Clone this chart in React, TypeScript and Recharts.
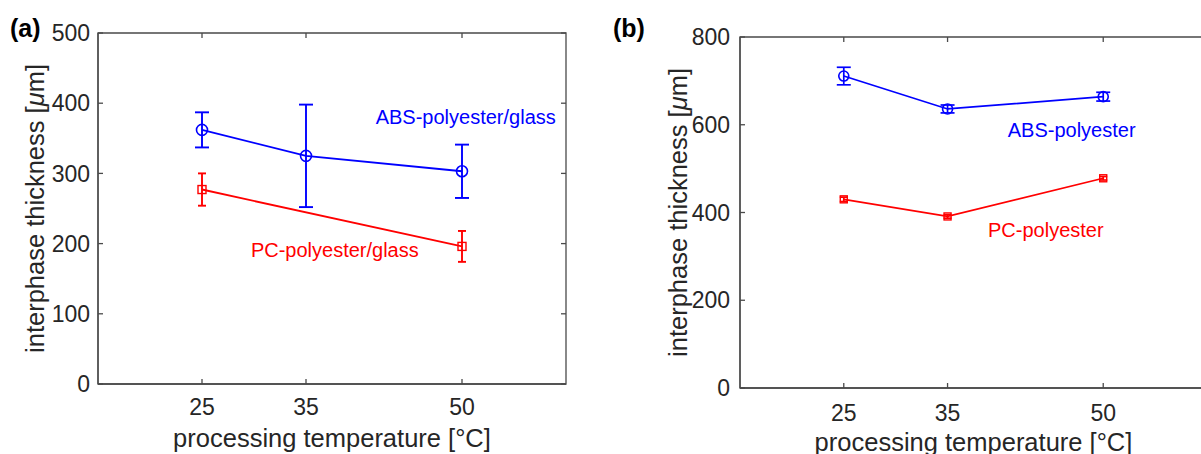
import React from "react"
import { LineChart, Line, XAxis, YAxis, ErrorBar, ReferenceDot, ReferenceArea, Label } from "recharts"

// processing temperatures (°C)
const temps = [25, 35, 50]
const tempTicks = [25, 35, 50]
const tempDomain: [number, number] = [15, 60]

// (a) polyester/glass
const absGlass = [362, 325, 303]
const absGlassErr = [25, 73, 38]
const pcGlassTemps = [25, 50]
const pcGlass = [277, 196]
const pcGlassErr = [23, 22]
const yTicksA = [0, 100, 200, 300, 400, 500]

// (b) polyester
const absPoly = [711, 636, 664]
const absPolyErr = [20, 9, 10]
const pcPoly = [430, 391, 478]
const pcPolyErr = [5, 4, 4]
const yTicksB = [0, 200, 400, 600, 800]

const BLUE = "#0000ff"
const RED = "#ff0000"
const TEXT = "#262626"
const AXIS = "#4a4a4a"
const FONT = "'Liberation Sans', Arial, Helvetica, sans-serif"
const TICK = 5

const rows = (xs: number[], ys: number[], es: number[]) =>
  xs.map((t, i) => ({ t, v: ys[i], e: es[i] }))

const squareDot = (size: number) => (p: any) => (
  <rect
    key={`sq-${p.index}`}
    x={p.cx - size / 2}
    y={p.cy - size / 2}
    width={size}
    height={size}
    fill="none"
    stroke={RED}
    strokeWidth={1.4}
  />
)

const tagShape = (text: string, color: string) => (p: any) => (
  <text x={p.cx} y={p.cy} dy="0.36em" fill={color} fontSize={20}>
    {text}
  </text>
)

// inward tick marks on the top and right edges of the box
const topTick = (p: any) => (
  <line x1={p.cx} y1={p.cy} x2={p.cx} y2={p.cy + TICK} stroke={AXIS} strokeWidth={1.3} />
)
const rightTick = (p: any) => (
  <line x1={p.cx} y1={p.cy} x2={p.cx - TICK} y2={p.cy} stroke={AXIS} strokeWidth={1.3} />
)

const YTitle = ({ viewBox, cx }: any) => {
  const x = viewBox.x + cx
  const y = viewBox.y + viewBox.height / 2
  return (
    <text
      x={x}
      y={y}
      dy="0.36em"
      transform={`rotate(-90 ${x} ${y})`}
      textAnchor="middle"
      fontSize={25.5}
      fill={TEXT}
    >
      interphase thickness [<tspan fontStyle="italic">μ</tspan>m]
    </text>
  )
}

interface PanelProps {
  width: number
  yWidth: number
  top: number
  xHeight: number
  right: number
  yMax: number
  yTicks: number[]
  yTickMargin: number
  xTickMargin: number
  yTitleX: number
  xTitleOffset: number
  abs: { t: number; v: number; e: number }[]
  pc: { t: number; v: number; e: number }[]
  absTag: [number, number, string]
  pcTag: [number, number, string]
  sq: number
  pcCap: number
  r: number
  lw: number
}

const Panel = (p: PanelProps) => (
  <LineChart
    width={p.width}
    height={454}
    margin={{ top: p.top, right: p.right, left: 0, bottom: 0 }}
  >
    <ReferenceArea
      x1={tempDomain[0]}
      x2={tempDomain[1]}
      y1={0}
      y2={p.yMax}
      fill="none"
      fillOpacity={0}
      stroke={AXIS}
      strokeWidth={1.3}
      ifOverflow="visible"
    />
    <XAxis
      type="number"
      dataKey="t"
      domain={tempDomain}
      ticks={tempTicks}
      allowDataOverflow
      height={p.xHeight}
      tickSize={-TICK}
      tickMargin={p.xTickMargin}
      axisLine={{ stroke: AXIS, strokeWidth: 1.3 }}
      tickLine={{ stroke: AXIS, strokeWidth: 1.3 }}
      tick={{ fill: TEXT, fontSize: 23 }}
    >
      <Label
        value="processing temperature [°C]"
        position="insideBottom"
        offset={p.xTitleOffset}
        fontSize={25.5}
        fill={TEXT}
      />
    </XAxis>
    <YAxis
      type="number"
      domain={[0, p.yMax]}
      ticks={p.yTicks}
      allowDataOverflow
      width={p.yWidth}
      tickSize={-TICK}
      tickMargin={p.yTickMargin}
      axisLine={{ stroke: AXIS, strokeWidth: 1.3 }}
      tickLine={{ stroke: AXIS, strokeWidth: 1.3 }}
      tick={{ fill: TEXT, fontSize: 23 }}
    >
      <Label content={(lp: any) => <YTitle {...lp} cx={p.yTitleX} />} />
    </YAxis>
    {tempTicks.map((t) => (
      <ReferenceDot key={`tt-${t}`} x={t} y={p.yMax} r={0} shape={topTick} />
    ))}
    {p.yTicks.map((v) => (
      <ReferenceDot key={`rt-${v}`} x={tempDomain[1]} y={v} r={0} shape={rightTick} />
    ))}
    <Line
      data={p.abs}
      dataKey="v"
      stroke={BLUE}
      strokeWidth={p.lw}
      dot={{ r: p.r, fill: "none", stroke: BLUE, strokeWidth: 1.6 }}
      activeDot={false}
      isAnimationActive={false}
    >
      <ErrorBar dataKey="e" direction="y" width={7} stroke={BLUE} strokeWidth={p.lw} isAnimationActive={false} />
    </Line>
    <Line
      data={p.pc}
      dataKey="v"
      stroke={RED}
      strokeWidth={p.lw}
      dot={squareDot(p.sq)}
      activeDot={false}
      isAnimationActive={false}
    >
      <ErrorBar dataKey="e" direction="y" width={p.pcCap} stroke={RED} strokeWidth={p.lw} isAnimationActive={false} />
    </Line>
    <ReferenceDot x={p.absTag[0]} y={p.absTag[1]} r={0} shape={tagShape(p.absTag[2], BLUE)} />
    <ReferenceDot x={p.pcTag[0]} y={p.pcTag[1]} r={0} shape={tagShape(p.pcTag[2], RED)} />
  </LineChart>
)

const tagStyle: React.CSSProperties = {
  position: "absolute",
  top: 16,
  fontSize: 25,
  fontWeight: "bold",
  lineHeight: "24px",
  color: "#000",
}

export default function App() {
  return (
    <div
      style={{
        position: "absolute",
        left: 0,
        top: 0,
        width: 1201,
        height: 454,
        overflow: "hidden",
        background: "#fff",
        fontFamily: FONT,
      }}
    >
      <div style={{ position: "absolute", left: 0, top: 0 }}>
        <Panel
          width={600}
          yWidth={98}
          top={33}
          xHeight={70}
          right={34}
          yMax={500}
          yTicks={yTicksA}
          yTickMargin={13}
          xTickMargin={20}
          yTitleX={35}
          xTitleOffset={7}
          abs={rows(temps, absGlass, absGlassErr)}
          pc={rows(pcGlassTemps, pcGlass, pcGlassErr)}
          absTag={[41.7, 380, "ABS-polyester/glass"]}
          pcTag={[29.7, 191, "PC-polyester/glass"]}
          sq={8}
          pcCap={4}
          r={5.5}
          lw={1.9}
        />
      </div>
      <div style={{ position: "absolute", left: 600, top: 0 }}>
        <Panel
          width={640}
          yWidth={140}
          top={37}
          xHeight={66}
          right={33}
          yMax={800}
          yTicks={yTicksB}
          yTickMargin={15}
          xTickMargin={22}
          yTitleX={78}
          xTitleOffset={3}
          abs={rows(temps, absPoly, absPolyErr)}
          pc={rows(temps, pcPoly, pcPolyErr)}
          absTag={[40.8, 589, "ABS-polyester"]}
          pcTag={[38.9, 361, "PC-polyester"]}
          sq={7}
          pcCap={4}
          r={5}
          lw={1.7}
        />
      </div>
      <div style={{ ...tagStyle, left: 10 }}>(a)</div>
      <div style={{ ...tagStyle, left: 613 }}>(b)</div>
    </div>
  )
}
